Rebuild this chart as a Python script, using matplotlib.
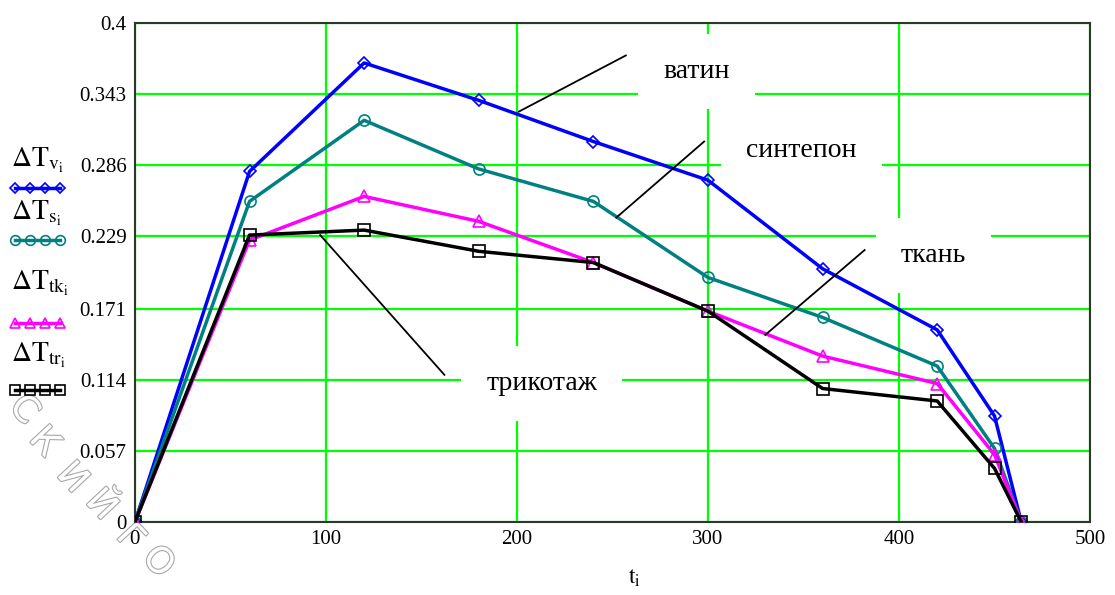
import matplotlib.pyplot as plt
import matplotlib.patheffects as pe
from matplotlib.lines import Line2D

plt.rcParams['font.family'] = ['Liberation Serif', 'DejaVu Serif']
plt.rcParams['mathtext.fontset'] = 'stix'

# time points, s
t = [0, 60, 120, 180, 240, 300, 360, 420, 450, 464]

# temperature differences for each material
dT_v = [0, 0.281, 0.368, 0.338, 0.305, 0.274, 0.203, 0.154, 0.085, 0]   # ватин
dT_s = [0, 0.257, 0.322, 0.283, 0.257, 0.196, 0.164, 0.125, 0.059, 0]   # синтепон
dT_tk = [0, 0.226, 0.261, 0.241, 0.208, 0.169, 0.133, 0.111, 0.054, 0]  # ткань
dT_tr = [0, 0.230, 0.234, 0.217, 0.208, 0.169, 0.107, 0.097, 0.043, 0]  # трикотаж

y_ticks = [0, 0.057, 0.114, 0.171, 0.229, 0.286, 0.343, 0.4]
y_labels = ['0', '0.057', '0.114', '0.171', '0.229', '0.286', '0.343', '0.4']
x_ticks = [0, 100, 200, 300, 400, 500]

series = [
    (dT_v, '#0000ff', 'D', r'$\Delta\mathrm{T}_{\mathrm{v}_{\mathrm{i}}}$'),
    (dT_s, '#008080', 'o', r'$\Delta\mathrm{T}_{\mathrm{s}_{\mathrm{i}}}$'),
    (dT_tk, '#ff00ff', '^', r'$\Delta\mathrm{T}_{\mathrm{tk}_{\mathrm{i}}}$'),
    (dT_tr, '#000000', 's', r'$\Delta\mathrm{T}_{\mathrm{tr}_{\mathrm{i}}}$'),
]

fig = plt.figure(figsize=(11.15, 5.95), dpi=100)
ax = fig.add_axes([0.121, 0.1227, 0.8566, 0.8386])

for y, c, m, lab in series:
    ms = 6 if m == 'D' else 8
    ax.plot(t, y, color=c, lw=2.5, marker=m, ms=ms, mfc='none', mec=c, mew=1.2, zorder=3)

ax.set_xlim(0, 500)
ax.set_ylim(0, 0.4)
ax.set_xticks(x_ticks)
ax.set_yticks(y_ticks)
ax.set_yticklabels(y_labels)
ax.tick_params(labelsize=15, length=0, pad=6)
ax.grid(True, color='#00ff00', lw=1.6, zorder=0)
for s in ax.spines.values():
    s.set_color('#333333')
    s.set_linewidth(1.5)
fig.text(635 / 1115, 1 - 578 / 595, r'$\mathrm{t}_{\mathrm{i}}$', fontsize=17,
         ha='center', va='center')

# material annotations with pointer lines (data units)
box = dict(facecolor='white', edgecolor='none', boxstyle='square,pad=0.9')
notes = [
    ('ватин', (294, 0.361), (201, 0.329), (257, 0.374)),
    ('синтепон', (349, 0.298), (252, 0.244), (298, 0.305)),
    ('ткань', (418, 0.214), (330, 0.150), (382, 0.218)),
    ('трикотаж', (213, 0.111), (97, 0.230), (162, 0.118)),
]
for txt, (tx, ty), p0, p1 in notes:
    ax.text(tx, ty, txt, fontsize=20, ha='center', va='center', bbox=box, zorder=4)
    ax.plot([p0[0], p1[0]], [p0[1], p1[1]], color='black', lw=1.3, zorder=5)

# legend on the left, outside of the plot
leg_y = [(160, 188), (213, 240), (283, 323), (355, 390)]
for (y, c, m, lab), (ty, ly) in zip(series, leg_y):
    fig.text(0.010, 1 - ty / 595, lab, fontsize=20, ha='left', va='center')
    ms = 5 if m == 'D' else 7
    ln = Line2D([15 / 1115, 60 / 1115], [1 - ly / 595] * 2, transform=fig.transFigure,
                color=c, lw=2.5, marker=m, ms=ms, mfc='none', mec=c, mew=1.2,
                markevery=[0, 1])
    fig.add_artist(ln)
    ln2 = Line2D([30 / 1115, 45 / 1115], [1 - ly / 595] * 2, transform=fig.transFigure,
                 color=c, lw=0, marker=m, ms=ms, mfc='none', mec=c, mew=1.2)
    fig.add_artist(ln2)

# watermark, letters along a diagonal
wm = ['С', 'К', 'И', 'Й', 'Г', 'О']
wm_xy = [(24, 410), (44, 442), (72, 478), (101, 505), (130, 538), (158, 562)]
for ch, (wx, wy) in zip(wm, wm_xy):
    fig.text(wx / 1115, 1 - wy / 595, ch, fontsize=26, rotation=-47, ha='center', va='center',
             family='DejaVu Sans', color='white', zorder=-1,
             path_effects=[pe.withStroke(linewidth=1.6, foreground='#a8a8a8')])

fig.savefig('out.png', dpi=100)
